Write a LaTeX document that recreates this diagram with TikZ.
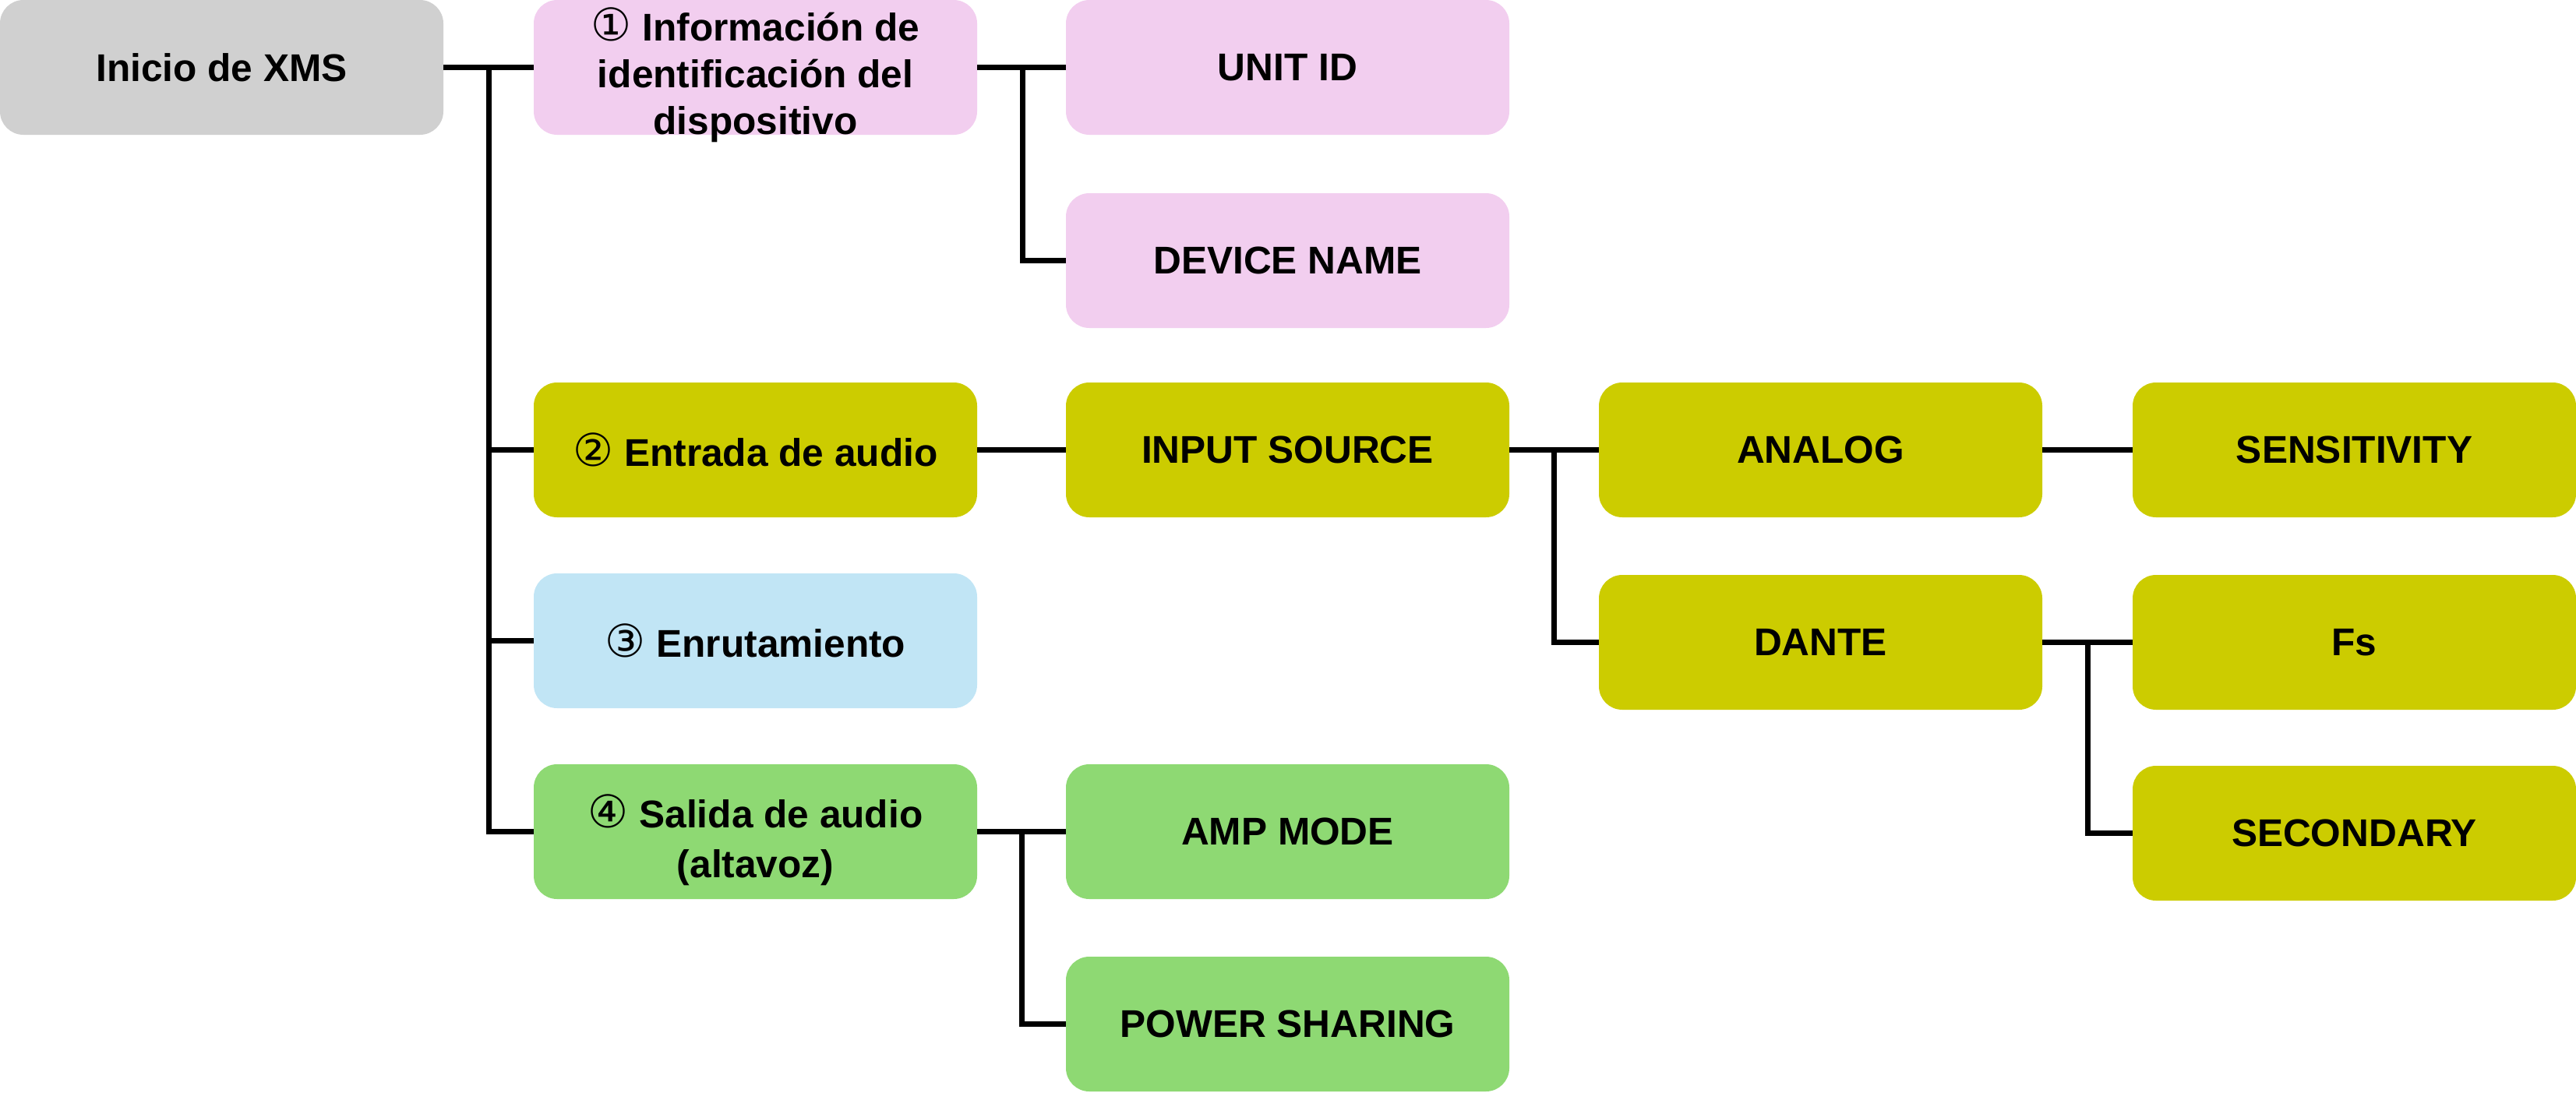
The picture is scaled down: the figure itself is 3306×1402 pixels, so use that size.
\documentclass[tikz,border=0pt]{standalone}
\usepackage{fontspec}
\setmainfont{Liberation Sans}
\newfontfamily\symf{DejaVu Sans}
\definecolor{cgray}{HTML}{D0D0D0}
\definecolor{cpink}{HTML}{F2CEEF}
\definecolor{colive}{HTML}{CCCC00}
\definecolor{cblue}{HTML}{C1E5F5}
\definecolor{cgreen}{HTML}{8ED973}
\newcommand{\circd}[1]{{\symf\mdseries\fontsize{29}{29}\selectfont #1}}
\begin{document}
\begin{tikzpicture}[x=0.5pt,y=-0.5pt,
  box/.style={rounded corners=15pt, minimum width=284.5pt, minimum height=86.5pt,
    inner sep=0pt, align=center, font=\bfseries\fontsize{24.8}{30}\selectfont},
  txt/.style={inner sep=0pt, align=center},
  conn/.style={line width=3.5pt, black}]
\useasboundingbox (0,0) rectangle (3306,1402);
% column 1
\node[box, fill=cgray] (root) at (284.5,86.5) {Inicio de XMS};
% column 2
\node[box, fill=cpink] (info) at (969.5,86.5) {};
\node[txt, font=\bfseries\fontsize{24.8}{30}\selectfont] (infotext) at ([yshift=-5pt]info.center)
  {\circd{①} Información de\\identificación del\\dispositivo};
\node[box, fill=colive] (audio) at (969.5,577.5) {\circd{②} Entrada de audio};
\node[box, fill=cblue] (enrut) at (969.5,822.5) {\circd{③} Enrutamiento};
\node[box, fill=cgreen] (salida) at (969.5,1067.5) {};
\node[txt, font=\bfseries\fontsize{24.8}{32}\selectfont] (salidatext) at ([yshift=-5.5pt]salida.center)
  {\circd{④} Salida de audio\\(altavoz)};
% column 3
\node[box, fill=cpink] (unit) at (1652.5,86.5) {UNIT ID};
\node[box, fill=cpink] (devname) at (1652.5,334.5) {DEVICE NAME};
\node[box, fill=colive] (insrc) at (1652.5,577.5) {INPUT SOURCE};
\node[box, fill=cgreen] (amp) at (1652.5,1067.5) {AMP MODE};
\node[box, fill=cgreen] (power) at (1652.5,1314.5) {POWER SHARING};
% column 4
\node[box, fill=colive] (analog) at (2336.5,577.5) {ANALOG};
\node[box, fill=colive] (dante) at (2336.5,824.5) {DANTE};
% column 5
\node[box, fill=colive] (sens) at (3021.5,577.5) {SENSITIVITY};
\node[box, fill=colive] (fs) at (3021.5,824.5) {Fs};
\node[box, fill=colive] (second) at (3021.5,1069.5) {SECONDARY};
% connectors
\path (root.east) ++(58,0) coordinate (t1);
\draw[conn] (root.east) -- (info.west);
\draw[conn] (t1) |- (audio.west);
\draw[conn] (t1) |- (enrut.west);
\draw[conn] (t1) |- (salida.west);
\path (info.east) ++(58,0) coordinate (t2);
\draw[conn] (info.east) -- (unit.west);
\draw[conn] (t2) |- (devname.west);
\draw[conn] (audio.east) -- (insrc.west);
\path (insrc.east) ++(57,0) coordinate (t3);
\draw[conn] (insrc.east) -- (analog.west);
\draw[conn] (t3) |- (dante.west);
\draw[conn] (analog.east) -- (sens.west);
\path (dante.east) ++(58,0) coordinate (t4);
\draw[conn] (dante.east) -- (fs.west);
\draw[conn] (t4) |- (second.west);
\path (salida.east) ++(57,0) coordinate (t5);
\draw[conn] (salida.east) -- (amp.west);
\draw[conn] (t5) |- (power.west);
\end{tikzpicture}
\end{document}
